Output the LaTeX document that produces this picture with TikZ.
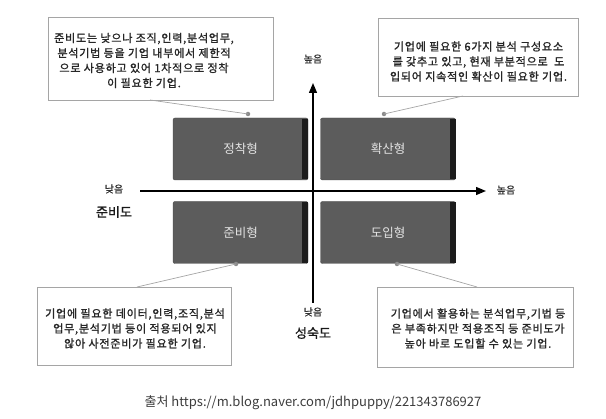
\documentclass[tikz,border=0pt]{standalone}
\usepackage{fontspec}
\setmainfont{Noto Sans CJK KR}
\newfontfamily\kr{Noto Sans CJK KR}
\newfontfamily\krs[LetterSpace=6.5,FakeBold=1.2]{Noto Sans CJK KR}
\newfontfamily\krb[FakeBold=1.2]{Noto Sans CJK KR}
\usetikzlibrary{arrows.meta}
\definecolor{quad}{RGB}{92,92,92}
\definecolor{stripe}{RGB}{28,28,28}
\definecolor{qtext}{RGB}{228,228,228}
\definecolor{callline}{RGB}{165,165,165}
\definecolor{captxt}{RGB}{60,60,60}
\tikzset{
  callout/.style={draw=callline, line width=0.8pt, fill=white, inner sep=0pt},
  calltext/.style={align=center, font=\krs\fontsize{11.1}{15}\selectfont,
    text=black!85, inner sep=0pt},
  quadbox/.style={fill=quad, draw=quad!80!black, line width=0.4pt, rounded corners=2pt,
    minimum width=135pt, minimum height=62pt, inner sep=0pt,
    font=\kr\fontsize{12.5}{14}\selectfont, text=qtext},
  pointer/.style={draw=callline, line width=0.7pt},
  dotmark/.style={circle, fill=black!45, inner sep=0pt, minimum size=4.5pt},
  axis/.style={line width=1.3pt, -{Triangle[length=10pt,width=8pt]}},
  small/.style={font=\krb\fontsize{10}{11}\selectfont, text=black!80},
  big/.style={font=\krb\fontsize{13}{14}\selectfont, text=black!90},
}
\begin{document}
\begin{tikzpicture}[x=1pt,y=-1pt]
\useasboundingbox (0,0) rectangle (606,419);
% callouts
\node[callout, minimum width=225pt, minimum height=83pt] (tl) at (160.5,58.5) {};
\node[calltext] (tltext) at (144,60.5)
  {준비도는 낮으나 조직,인력,분석업무,\\분석기법 등을 기업 내부에서 제한적\\으로 사용하고 있어 1차적으로 정착\\이 필요한 기업.};
\node[callout, minimum width=200pt, minimum height=78pt] (tr) at (478,57) {};
\node[calltext] (trtext) at (478.5,61.5)
  {기업에 필요한 6가지 분석 구성요소\\를 갖추고 있고, 현재 부분적으로 \ 도\\입되어 지속적인 확산이 필요한 기업.};
\node[callout, minimum width=194pt, minimum height=78pt] (bl) at (134,326) {};
\node[calltext] (bltext) at (135,328.5)
  {기업에 필요한 데이터,인력,조직,분석\\업무,분석기법 등이 적용되어 있지\\않아 사전준비가 필요한 기업.};
\node[callout, minimum width=196pt, minimum height=80pt] (br) at (475,327) {};
\node[calltext] (brtext) at (478,328.5)
  {기업에서 활용하는 분석업무,기법 등\\은 부족하지만 적용조직 등 준비도가\\높아 바로 도입할 수 있는 기업.};
% quadrants
\node[quadbox] (q1) at (240.5,149) {정착형};
\node[quadbox] (q2) at (388,149) {확산형};
\node[quadbox] (q3) at (240.5,232.5) {준비형};
\node[quadbox] (q4) at (388,232.5) {도입형};
\foreach \q in {q1,q2,q3,q4}{
  \fill[stripe] ([xshift=-6pt,yshift=-1pt]\q.north east) rectangle ([yshift=1pt]\q.south east);
}
% pointers
\coordinate (tla) at (150,100);
\coordinate (tra) at (463,96);
\coordinate (bla) at (137,287);
\coordinate (bra) at (477,287);
\node[dotmark] (d1) at (248,114) {};
\node[dotmark] (d2) at (384,114) {};
\node[dotmark] (d3) at (236,264) {};
\node[dotmark] (d4) at (397,264) {};
\draw[pointer] (tla) -- (d1.center);
\draw[pointer] (tra) -- (d2.center);
\draw[pointer] (bla) -- (d3.center);
\draw[pointer] (bra) -- (d4.center);
% axes
\coordinate (xl) at (140,191);
\coordinate (xr) at (486,191);
\coordinate (yb) at (313,303);
\coordinate (yt) at (313,83);
\draw[axis] (xl) -- (xr);
\draw[axis] (yb) -- (yt);
% axis labels
\node[small] (lowx) at (114,189) {낮음};
\node[big] (xname) at (114,212) {준비도};
\node[small] (highx) at (506,190) {높음};
\node[small] (highy) at (313,59) {높음};
\node[small] (lowy) at (313,312) {낮음};
\node[big] (yname) at (313,333) {성숙도};
% caption
\node[font=\kr\fontsize{13}{15}\selectfont, text=captxt] (cap) at (313,403)
  {출처 https://m.blog.naver.com/jdhpuppy/221343786927};
\end{tikzpicture}
\end{document}
